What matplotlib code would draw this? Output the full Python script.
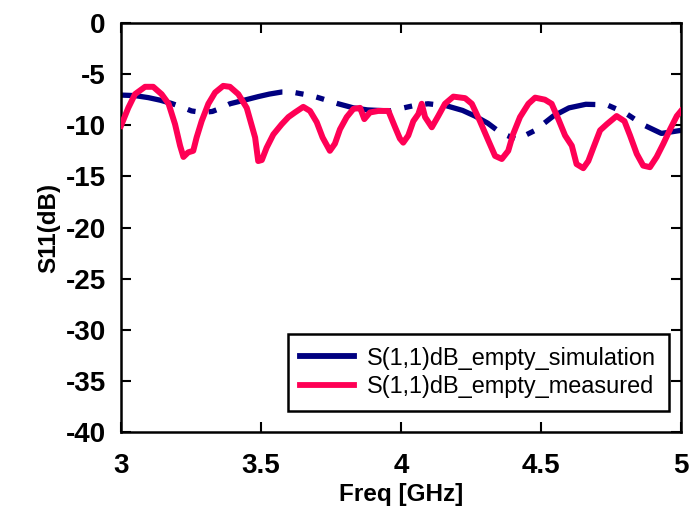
import matplotlib
matplotlib.use("Agg")
import matplotlib.pyplot as plt
from matplotlib.lines import Line2D

plt.rcParams['font.family'] = ['Liberation Sans', 'DejaVu Sans']
plt.rcParams['lines.scale_dashes'] = False

# Simulation (GHz, dB)
sim_f = [3.0, 3.05, 3.098, 3.14, 3.181, 3.22, 3.252, 3.29, 3.326, 3.36, 3.389,
         3.44, 3.49, 3.53, 3.574, 3.61, 3.639, 3.68, 3.711, 3.776, 3.83, 3.88,
         3.96, 4.026, 4.06, 4.097, 4.163, 4.22, 4.264, 4.31, 4.354, 4.413,
         4.479, 4.544, 4.6, 4.66, 4.735, 4.798, 4.865, 4.93, 5.0]
sim_db = [-7.05, -7.1, -7.3, -7.55, -7.87, -8.25, -8.6, -8.75, -8.65, -8.3, -7.9,
          -7.55, -7.2, -6.95, -6.75, -6.75, -6.9, -7.1, -7.35, -7.9, -8.3, -8.5,
          -8.6, -8.2, -8.0, -7.9, -8.1, -8.55, -9.1, -9.8, -10.7, -11.4,
          -10.5, -9.1, -8.3, -7.95, -8.0, -8.75, -9.95, -10.8, -10.5]

# Measured (GHz, dB)
meas_f = [3.0, 3.026, 3.05, 3.086, 3.115, 3.145, 3.17, 3.193, 3.211, 3.223,
          3.24, 3.258, 3.27, 3.288, 3.312, 3.336, 3.365, 3.389, 3.419, 3.449,
          3.479, 3.49, 3.503, 3.52, 3.544, 3.574, 3.598, 3.621, 3.651, 3.675,
          3.699, 3.72, 3.746, 3.764, 3.782, 3.806, 3.83, 3.854, 3.869, 3.889,
          3.919, 3.955, 3.979, 3.996, 4.008, 4.026, 4.044, 4.062, 4.074, 4.086,
          4.11, 4.133, 4.157, 4.187, 4.229, 4.253, 4.282, 4.312, 4.336, 4.36,
          4.383, 4.4, 4.425, 4.455, 4.479, 4.514, 4.538, 4.562, 4.586, 4.61,
          4.627, 4.651, 4.669, 4.687, 4.711, 4.735, 4.77, 4.798, 4.818, 4.842,
          4.865, 4.889, 4.913, 4.937, 4.961, 4.985, 5.0]
meas_db = [-10.05, -8.3, -6.96, -6.24, -6.24, -6.96, -7.9, -9.9, -12.0, -13.1,
           -12.65, -12.5, -11.2, -9.6, -7.9, -6.8, -6.15, -6.24, -6.96, -8.3,
           -11.2, -13.5, -13.4, -12.2, -10.9, -9.9, -9.2, -8.75, -8.2, -8.6,
           -9.7, -11.2, -12.5, -11.8, -10.4, -9.2, -8.4, -8.3, -9.4, -8.75,
           -8.6, -8.6, -10.2, -11.3, -11.7, -11.0, -9.6, -8.9, -7.9, -9.2,
           -10.2, -9.1, -7.9, -7.2, -7.35, -7.9, -9.6, -11.5, -13.0, -13.3,
           -12.5, -10.9, -9.2, -7.9, -7.3, -7.5, -7.9, -9.4, -11.0, -12.0,
           -13.8, -14.2, -13.5, -12.2, -10.5, -9.9, -9.1, -9.6, -11.0, -12.8,
           -13.95, -14.1, -13.1, -11.8, -10.4, -9.1, -8.6]

x_ticks = [3, 3.5, 4, 4.5, 5]
x_labels = ['3', '3.5', '4', '4.5', '5']
y_ticks = [0, -5, -10, -15, -20, -25, -30, -35, -40]
y_labels = ['0', '-5', '-10', '-15', '-20', '-25', '-30', '-35', '-40']

fig = plt.figure(figsize=(6.97, 5.12), dpi=100)
ax = fig.add_axes([121/697, 1 - 432/512, (681 - 121)/697, (432 - 23)/512])

navy = '#000080'
red = '#ff0055'

ax.plot(meas_f, meas_db, color=red, lw=4.3, zorder=3)
sim_line, = ax.plot(sim_f, sim_db, color=navy, lw=3.8, dash_capstyle='butt', zorder=2)
sim_line.set_dashes([40, 9.5, 5.8, 9.5, 5.8, 9.5])

ax.set_xlim(3, 5)
ax.set_ylim(-40, 0)
ax.set_xticks(x_ticks)
ax.set_xticklabels(x_labels)
ax.set_yticks(y_ticks)
ax.set_yticklabels(y_labels)
ax.tick_params(direction='in', length=7, width=1.5, top=True, right=True,
               labelsize=20, pad=11)
ax.tick_params(axis='x', pad=15)
for lab in ax.get_xticklabels() + ax.get_yticklabels():
    lab.set_fontweight('bold')
for sp in ax.spines.values():
    sp.set_linewidth(1.8)

ax.set_xlabel('Freq [GHz]', fontsize=17.5, fontweight='bold', labelpad=3)
ax.set_ylabel('S11(dB)', fontsize=17.5, fontweight='bold', labelpad=4)

handles = [Line2D([], [], color=navy, lw=4.2),
           Line2D([], [], color=red, lw=4.2)]
leg = ax.legend(handles, ['S(1,1)dB_empty_simulation', 'S(1,1)dB_empty_measured'],
                loc='lower right', bbox_to_anchor=(0.979, 0.052), fontsize=16.9,
                frameon=True, fancybox=False, edgecolor='black', framealpha=1,
                handlelength=2.3, borderpad=0.55, labelspacing=0.22, handletextpad=0.55,
                borderaxespad=0.0)
leg.get_frame().set_linewidth(1.8)

fig.savefig('out.png', dpi=100)
